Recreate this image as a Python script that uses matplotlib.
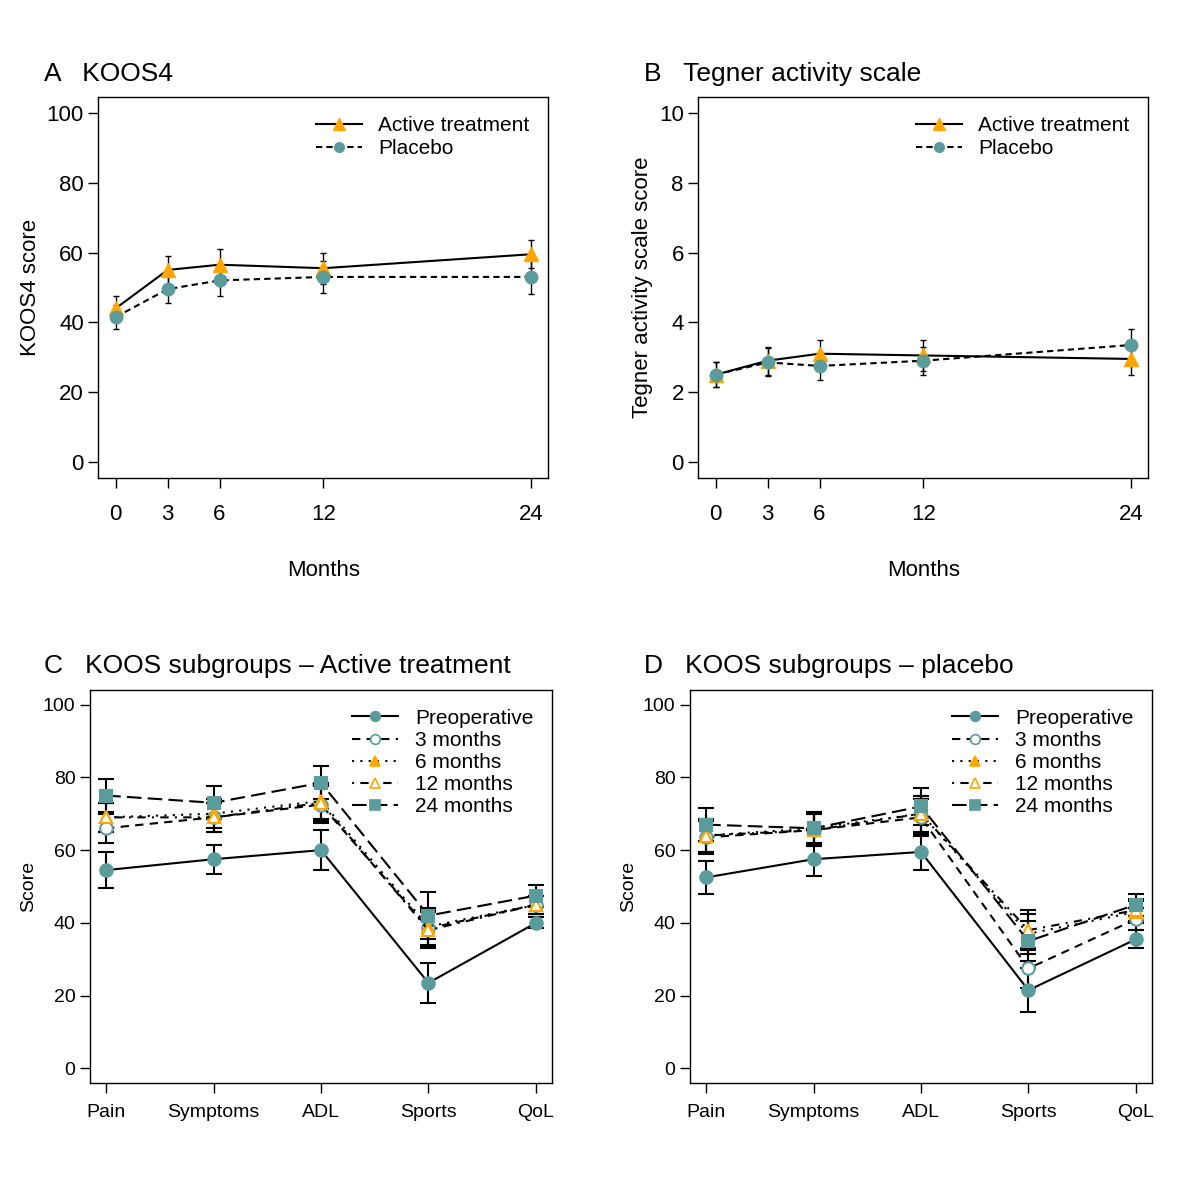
import matplotlib
matplotlib.use("Agg")
import matplotlib.pyplot as plt
from matplotlib.lines import Line2D
import numpy as np

plt.rcParams['font.family'] = ['Liberation Sans', 'DejaVu Sans']

months = [0, 3, 6, 12, 24]
koos_active = [44, 55, 56.5, 55.5, 59.5]
koos_active_err = [3.5, 4, 4.5, 4.5, 4]
koos_placebo = [41.5, 49.5, 52, 53, 53]
koos_placebo_err = [3.5, 4, 4.5, 4.5, 5]
teg_active = [2.5, 2.9, 3.1, 3.05, 2.95]
teg_active_err = [0.35, 0.4, 0.4, 0.45, 0.45]
teg_placebo = [2.5, 2.85, 2.75, 2.9, 3.35]
teg_placebo_err = [0.35, 0.4, 0.4, 0.4, 0.45]

subgroups = ["Pain", "Symptoms", "ADL", "Sports", "QoL"]
series_names = ["Preoperative", "3 months", "6 months", "12 months", "24 months"]
act_vals = [[54.5, 57.5, 60, 23.5, 40],
            [66, 69, 72.5, 38.5, 45],
            [69, 70, 73.5, 39, 45],
            [69, 69, 73, 38, 45],
            [75, 73, 78.5, 42, 47.5]]
act_err = [[5, 4, 5.5, 5.5, 1.5],
           [4, 4, 5, 5, 2.5],
           [4, 4, 5, 5, 2.5],
           [4, 4, 5, 5, 2.5],
           [4.5, 4.5, 4.5, 6.5, 3]]
pla_vals = [[52.5, 57.5, 59.5, 21.5, 35.5],
            [63.5, 65.5, 69, 27.5, 41],
            [64, 66, 70, 37, 43],
            [64, 65.5, 70, 38, 43.5],
            [67, 66, 72, 35, 45]]
pla_err = [[4.5, 4.5, 5, 6, 2.5],
           [4.5, 4.5, 5, 5.5, 3],
           [4.5, 4.5, 5, 5.5, 3],
           [4.5, 4.5, 5, 5.5, 3],
           [4.5, 4.5, 5, 5.5, 3]]

TEAL = '#5A9C9C'
ORANGE = '#FFA500'
styles = [dict(ls='-', marker='o', mfc=TEAL, mec=TEAL),
          dict(ls=(0, (4, 3)), marker='o', mfc='white', mec=TEAL),
          dict(ls=(0, (1, 3)), marker='^', mfc=ORANGE, mec=ORANGE),
          dict(ls=(0, (1, 3, 4, 3)), marker='^', mfc='white', mec=ORANGE),
          dict(ls=(0, (7, 3)), marker='s', mfc=TEAL, mec=TEAL)]

fig = plt.figure(figsize=(12, 12), dpi=100)

def style_ax(ax, ls=15):
    ax.tick_params(direction='out', length=7, labelsize=ls, width=1)
    for s in ax.spines.values():
        s.set_linewidth(1)

def top_panel(rect, letter, title, a, ae, p, pe, ylim, yticks, ylabel):
    ax = fig.add_axes(rect)
    ax.errorbar(months, a, yerr=ae, color='black', lw=1.5, ls='-', marker='^',
                mfc=ORANGE, mec=ORANGE, ms=10, capsize=2, elinewidth=1)
    ax.errorbar(months, p, yerr=pe, color='black', lw=1.5, ls=(0, (3, 2)), marker='o',
                mfc=TEAL, mec=TEAL, ms=9, capsize=2, elinewidth=1)
    handles = [Line2D([], [], color='black', lw=1.5, ls='-', marker='^', mfc=ORANGE, mec=ORANGE, ms=8),
               Line2D([], [], color='black', lw=1.5, ls=(0, (3, 2)), marker='o', mfc=TEAL, mec=TEAL, ms=7)]
    ax.legend(handles, ['Active treatment', 'Placebo'], loc='upper right', frameon=False,
              fontsize=15, handlelength=2.2, labelspacing=0.2)
    ax.set_xlim(-1, 25)
    ax.set_ylim(*ylim)
    ax.set_xticks(months)
    ax.set_yticks(yticks)
    ax.set_xlabel('Months', fontsize=16, labelpad=25)
    ax.set_ylabel(ylabel, fontsize=16)
    ax.text(-0.12, 1.03, letter + '   ' + title, transform=ax.transAxes, fontsize=19, va='bottom')
    style_ax(ax, 16)
    ax.tick_params(axis='x', pad=12)

top_panel([0.082, 0.602, 0.375, 0.317], 'A', 'KOOS4', koos_active, koos_active_err,
          koos_placebo, koos_placebo_err, (-4.5, 104.5), range(0, 101, 20), 'KOOS4 score')
top_panel([0.582, 0.602, 0.375, 0.317], 'B', 'Tegner activity scale', teg_active, teg_active_err,
          teg_placebo, teg_placebo_err, (-0.45, 10.45), range(0, 11, 2), 'Tegner activity scale score')

def bottom_panel(rect, letter, title, vals, errs):
    ax = fig.add_axes(rect)
    x = np.arange(len(subgroups))
    handles = []
    for name, v, e, st in zip(series_names, vals, errs, styles):
        ax.errorbar(x, v, yerr=e, color='black', lw=1.5, ls=st['ls'], marker=st['marker'],
                    mfc=st['mfc'], mec=st['mec'], mew=1.5, ms=9, capsize=6, elinewidth=1.5,
                    capthick=1.5)
        handles.append(Line2D([], [], color='black', lw=1.5, ls=st['ls'], marker=st['marker'],
                              mfc=st['mfc'], mec=st['mec'], mew=1.2, ms=7))
    ax.legend(handles, series_names, loc='upper right', frameon=False, fontsize=15,
              handlelength=2.2, labelspacing=0.15)
    ax.set_xlim(-0.15, 4.15)
    ax.set_ylim(-4, 104)
    ax.set_xticks(x)
    ax.set_xticklabels(subgroups)
    ax.set_yticks(range(0, 101, 20))
    ax.set_ylabel('Score', fontsize=14)
    ax.text(-0.1, 1.03, letter + '   ' + title, transform=ax.transAxes, fontsize=19, va='bottom')
    style_ax(ax, 14)
    ax.tick_params(axis='x', pad=8)

bottom_panel([0.075, 0.0975, 0.385, 0.3275], 'C', 'KOOS subgroups \u2013 Active treatment', act_vals, act_err)
bottom_panel([0.575, 0.0975, 0.385, 0.3275], 'D', 'KOOS subgroups \u2013 placebo', pla_vals, pla_err)

fig.savefig('out.png', dpi=100)
